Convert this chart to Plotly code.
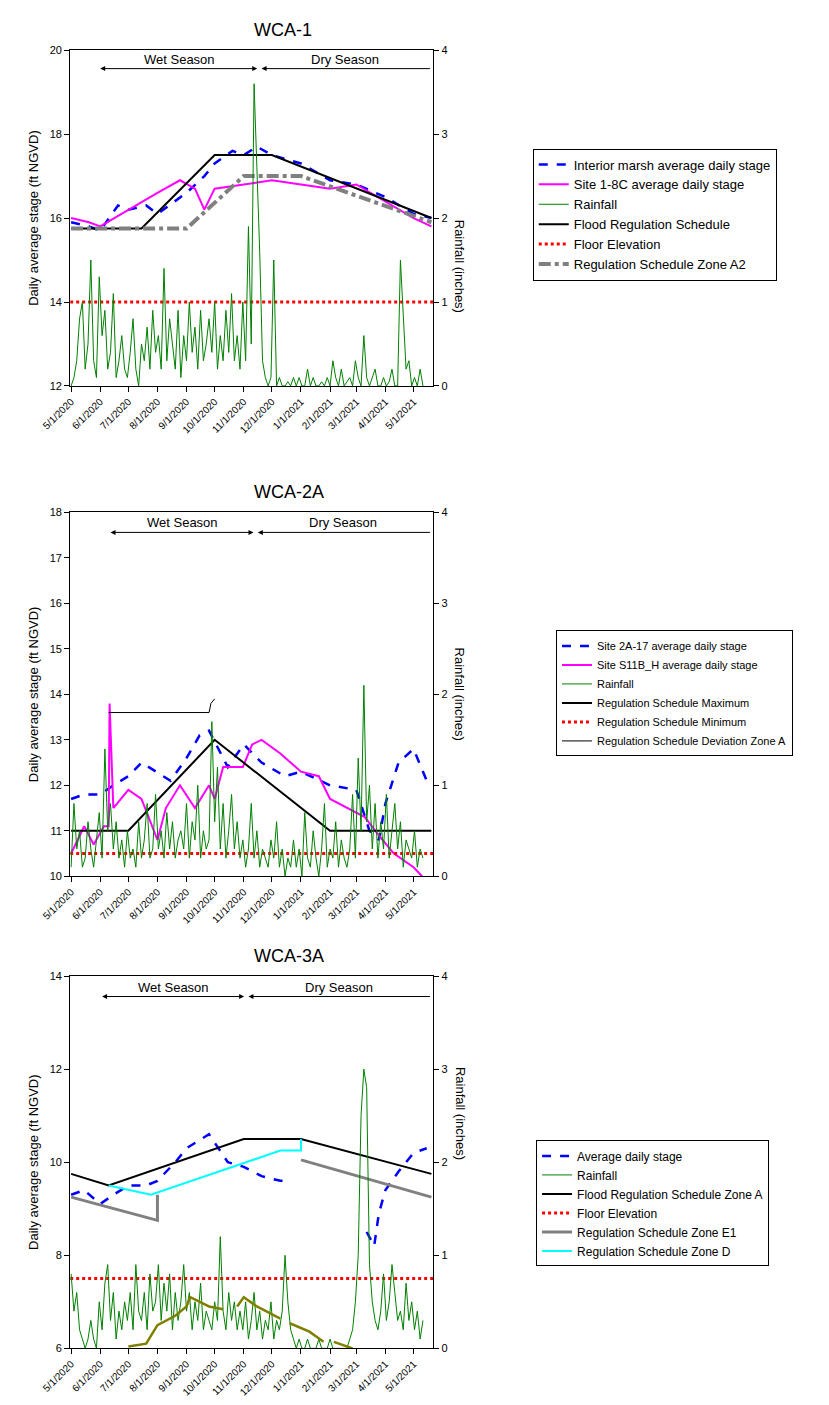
import pandas as pd
import plotly.graph_objects as go

# ---------------- data ----------------
rain_start = '2020-05-01'   # rainfall sampled every 3 days

p1_rain = [0, 0.1, 0.3, 0.8, 1.0, 0.2, 0.5, 1.5, 0.3, 0.1,
           1.3, 0.6, 0.9, 0.2, 0.4, 1.1, 0.1, 0.3, 0.6, 0.2,
           0.1, 0.4, 0.8, 0.2, 0.0, 0.5, 0.3, 0.7, 0.2, 0.9,
           0.4, 0.6, 0.2, 1.4, 0.3, 0.8, 0.5, 0.2, 0.9, 0.1,
           0.6, 0.3, 1.0, 0.4, 0.7, 0.2, 0.9, 0.3, 0.5, 0.8,
           0.4, 1.0, 0.2, 0.6, 0.3, 0.9, 0.4, 1.1, 0.3, 0.6,
           0.2, 1.0, 0.3, 1.9, 0.5, 3.6, 2.6, 1.6, 0.3, 0.1,
           0.0, 0.1, 1.5, 0.0, 0.1, 0.0, 0.0, 0.05, 0.0, 0.1,
           0, 0.1, 0.0, 0.0, 0.2, 0.0, 0.1, 0.0, 0.0, 0.05,
           0, 0.1, 0.0, 0.3, 0.1, 0, 0.2, 0, 0.05, 0.1,
           0, 0.3, 0.1, 0, 0.6, 0.1, 0, 0.1, 0.2, 0,
           0, 0.1, 0, 0.05, 0.2, 0, 0, 1.5, 0.9, 0.2,
           0.3, 0.0, 0.1, 0, 0.2, 0]
p2_rain = [0.1, 0.8, 0.3, 0.5, 0.1, 0.2, 0.6, 0.3, 0.1, 0.4,
           0.7, 0.2, 1.4, 0.5, 0.8, 0.3, 0.6, 0.2, 0.4, 0.1,
           0.5, 0.2, 0.3, 0.1, 0.6, 0.2, 0.4, 0.8, 0.2, 0.3,
           0.9, 0.3, 0.5, 0.2, 0.7, 0.3, 0.6, 0.2, 0.4, 0.5,
           0.3, 0.8, 0.2, 0.6, 0.4, 1.0, 0.2, 0.5, 0.3, 0.4,
           1.7, 0.6, 1.2, 0.3, 0.8, 0.2, 0.5, 0.9, 0.3, 0.6,
           0.2, 0.4, 0.1, 0.3, 0.8, 0.2, 0.5, 0.1, 0.3, 0.2,
           0.1, 0.4, 0.2, 0.6, 0.1, 0.3, 0.0, 0.2, 0.1, 0.4,
           0.1, 0.3, 0.0, 0.7, 0.2, 0.1, 0.5, 0.2, 0.0, 0.3,
           0.8, 0.1, 0.3, 0.2, 0.6, 0.1, 0.4, 0.2, 0.1, 0.3,
           0.9, 0.2, 1.3, 0.5, 2.1, 0.6, 1.0, 0.3, 0.8, 0.2,
           0.6, 0.3, 0.9, 0.2, 0.5, 0.8, 0.3, 0.6, 0.1, 0.4,
           0.3, 0.2, 0.5, 0.1, 0.3, 0.2]
p3_rain = [0.8, 0.4, 0.6, 0.2, 0.1, 0.0, 0.1, 0.3, 0.1, 0.0,
           0.5, 0.2, 0.7, 0.9, 0.3, 0.6, 0.1, 0.4, 0.2, 0.5,
           0.3, 0.6, 0.2, 0.9, 0.4, 0.3, 0.6, 0.2, 0.8, 0.4,
           0.5, 0.9, 0.3, 0.7, 0.4, 0.8, 0.2, 0.6, 0.3, 0.5,
           0.9, 0.4, 0.6, 0.2, 0.5, 0.3, 0.7, 0.2, 0.4, 0.3,
           0.2, 0.5, 0.3, 1.2, 0.4, 0.2, 0.6, 0.3, 0.5, 0.2,
           0.4, 0.2, 0.5, 0.1, 0.3, 0.6, 0.2, 0.4, 0.1, 0.3,
           0.2, 0.5, 0.1, 0.3, 0.2, 0.4, 1.0, 0.5, 0.2, 0.1,
           0.0, 0.1, 0.0, 0.0, 0.1, 0.0, 0.0, 0.0, 0.1, 0.0,
           0.0, 0.0, 0.1, 0.0, 0.0, 0.0, 0.0, 0.0, 0.0, 0.1,
           0.2, 0.5, 1.0, 2.5, 3.0, 2.8, 0.9, 0.5, 0.3, 0.2,
           0.4, 0.8, 0.3, 0.5, 0.9, 0.6, 0.3, 0.4, 0.2, 0.7,
           0.3, 0.5, 0.2, 0.4, 0.1, 0.3]

# WCA-1
p1_marsh_dates = ['2020-05-01', '2020-05-20', '2020-06-01', '2020-06-20', '2020-07-01', '2020-07-20', '2020-08-01',
                  '2020-08-20', '2020-09-01', '2020-09-20', '2020-10-01', '2020-10-20', '2020-11-01', '2020-11-15',
                  '2020-12-01', '2021-01-01', '2021-02-01', '2021-03-01', '2021-04-01', '2021-05-01', '2021-05-20']
p1_marsh = [15.9, 15.8, 15.7, 16.3, 16.2, 16.3, 16.1, 16.4, 16.6, 17.0, 17.3, 17.6, 17.5, 17.7,
            17.5, 17.3, 16.9, 16.8, 16.5, 16.1, 16.0]
p1_site_dates = ['2020-05-01', '2020-05-20', '2020-06-01', '2020-07-01', '2020-08-01', '2020-08-25', '2020-09-10',
                 '2020-09-20', '2020-10-01', '2020-11-01', '2020-12-01', '2021-01-01', '2021-02-01', '2021-03-01',
                 '2021-04-01', '2021-05-01', '2021-05-20']
p1_site = [16.0, 15.9, 15.8, 16.2, 16.6, 16.9, 16.7, 16.2, 16.7, 16.8, 16.9, 16.8, 16.7, 16.8,
           16.4, 16.0, 15.8]
p1_flood_dates = ['2020-05-01', '2020-07-15', '2020-10-01', '2020-12-01', '2021-05-20']
p1_flood = [15.75, 15.75, 17.5, 17.5, 16.0]
p1_a2_dates = ['2020-05-01', '2020-09-01', '2020-11-01', '2021-01-01', '2021-05-20']
p1_a2 = [15.75, 15.75, 17.0, 17.0, 15.9]
p1_floor = 14.0

# WCA-2A
p2_site1_dates = ['2020-05-01', '2020-05-15', '2020-06-01', '2020-06-15', '2020-07-01', '2020-07-15', '2020-08-15',
                  '2020-09-01', '2020-09-15', '2020-09-25', '2020-10-15', '2020-11-01', '2020-11-20', '2020-12-15',
                  '2021-01-01', '2021-02-01', '2021-03-01', '2021-03-15', '2021-03-25', '2021-04-01', '2021-04-15',
                  '2021-05-01', '2021-05-15']
p2_site1 = [11.7, 11.8, 11.8, 12.0, 12.2, 12.5, 12.1, 12.6, 13.1, 13.2, 12.4, 12.9, 12.5, 12.2,
            12.3, 12.0, 11.9, 11.0, 10.8, 11.6, 12.5, 12.8, 12.1]
p2_site2_dates = ['2020-05-01', '2020-05-15', '2020-05-25', '2020-06-05', '2020-06-10', '2020-06-11', '2020-06-15',
                  '2020-07-01', '2020-07-15', '2020-08-01', '2020-08-10', '2020-08-25', '2020-09-10', '2020-09-25',
                  '2020-10-01', '2020-10-10', '2020-10-31', '2020-11-10', '2020-11-20', '2020-12-10', '2021-01-01',
                  '2021-01-20', '2021-02-01', '2021-02-20', '2021-03-10', '2021-03-25', '2021-04-10', '2021-05-01',
                  '2021-05-10']
p2_site2 = [10.5, 11.1, 10.7, 11.1, 11.1, 13.8, 11.5, 11.9, 11.7, 10.8, 11.5, 12.0, 11.5, 12.0,
            11.7, 12.4, 12.4, 12.9, 13.0, 12.7, 12.3, 12.2, 11.7, 11.5, 11.3, 10.9, 10.5, 10.2, 10.0]
p2_max_dates = ['2020-05-01', '2020-07-01', '2020-10-01', '2021-02-01', '2021-05-20']
p2_max = [11.0, 11.0, 13.0, 11.0, 11.0]
p2_dev_dates = ['2020-06-10', '2020-09-25', '2020-09-27', '2020-10-01']
p2_dev = [13.6, 13.6, 13.8, 13.9]
p2_min = 10.5

# WCA-3A
p3_stage_dates = ['2020-05-01', '2020-05-15', '2020-06-01', '2020-06-15', '2020-07-01', '2020-07-20', '2020-08-01',
                  '2020-08-20', '2020-09-01', '2020-09-25', '2020-10-15', '2020-11-01', '2020-11-20', '2020-12-10',
                  '2020-12-20', '2021-01-01', '2021-03-12', '2021-03-20', '2021-03-25', '2021-04-01', '2021-04-15',
                  '2021-05-01', '2021-05-15']
p3_stage = [9.3, 9.4, 9.1, 9.3, 9.5, 9.5, 9.6, 10.0, 10.3, 10.6, 10.0, 9.9, 9.7, 9.6,
            9.6, None, 8.5, 8.2, 8.9, 9.4, 9.8, 10.2, 10.3]
p3_zoneA_dates = ['2020-05-01', '2020-06-10', '2020-11-01', '2021-01-01', '2021-05-20']
p3_zoneA = [9.75, 9.5, 10.5, 10.5, 9.75]
p3_e1_dates = ['2020-05-01', '2020-07-31', '2020-08-01', '2020-08-01', '2021-01-01', '2021-01-01', '2021-05-20']
p3_e1 = [9.25, 8.75, 8.75, 9.3, None, 10.05, 9.25]
p3_d_dates = ['2020-06-10', '2020-07-25', '2020-12-10', '2021-01-01', '2021-01-01']
p3_d = [9.5, 9.3, 10.25, 10.25, 10.5]
p3_floor = 7.5
p3_other_dates = ['2020-07-01', '2020-07-20', '2020-08-01', '2020-08-20', '2020-09-01', '2020-09-05', '2020-09-25',
                  '2020-10-10', '2020-10-18', '2020-10-25', '2020-11-01', '2020-11-15', '2020-12-10', '2020-12-15',
                  '2020-12-20', '2021-01-10', '2021-01-25', '2021-01-30', '2021-02-05', '2021-02-25']
p3_other = [0.02, 0.05, 0.25, 0.35, 0.45, 0.55, 0.45, 0.42, None, 0.45, 0.55, 0.45, 0.32, None,
            0.27, 0.18, 0.07, None, 0.07, 0.0]

x_ticks = pd.date_range('2020-05-01', '2021-05-01', freq='MS')
x_labels = [f'{d.month}/1/{d.year}' for d in x_ticks]
x_range = ['2020-04-30', '2021-05-22']


def rain_dates(vals):
    return pd.date_range(rain_start, periods=len(vals), freq='3D')


# ---------------- figure ----------------
fig = go.Figure()
FONT = 'Arial, Liberation Sans, sans-serif'

panels = [
    dict(title='WCA-1', dom=[0.731, 0.970], yr=[12, 20], dt=2, rain=p1_rain, leg='legend',
         wet=('2020-06-01', '2020-11-17'), dry_end='2021-05-20'),
    dict(title='WCA-2A', dom=[0.382, 0.641], yr=[10, 18], dt=1, rain=p2_rain, leg='legend2',
         wet=('2020-06-12', '2020-11-13'), dry_end='2021-05-20'),
    dict(title='WCA-3A', dom=[0.046, 0.311], yr=[6, 14], dt=2, rain=p3_rain, leg='legend3',
         wet=('2020-06-03', '2020-11-03'), dry_end='2021-05-20'),
]


def add(i, x, y, name, color, width, dash='solid', right=False, show=True):
    n = i + 1
    fig.add_trace(go.Scatter(x=x, y=y, name=name, mode='lines',
                             line=dict(color=color, width=width, dash=dash),
                             xaxis=f'x{n}' if n > 1 else 'x',
                             yaxis=f'y{2 * n}' if right else (f'y{2 * n - 1}' if n > 1 else 'y'),
                             legend=panels[i]['leg'], showlegend=show, connectgaps=False))


# WCA-1 traces
add(0, p1_marsh_dates, p1_marsh, 'Interior marsh average daily stage', '#0000ff', 2.5, 'dash')
add(0, p1_site_dates, p1_site, 'Site 1-8C average daily stage', '#ff00ff', 2)
add(0, rain_dates(p1_rain), p1_rain, 'Rainfall', '#008000', 1, right=True)
add(0, p1_flood_dates, p1_flood, 'Flood Regulation Schedule', '#000000', 2)
add(0, x_range, [p1_floor, p1_floor], 'Floor Elevation', '#ff0000', 3, 'dot')
add(0, p1_a2_dates, p1_a2, 'Regulation Schedule Zone A2', '#808080', 4, 'dashdot')

# WCA-2A traces
add(1, p2_site1_dates, p2_site1, 'Site 2A-17 average daily stage', '#0000ff', 2.5, 'dash')
add(1, p2_site2_dates, p2_site2, 'Site S11B_H average daily stage', '#ff00ff', 2)
add(1, rain_dates(p2_rain), p2_rain, 'Rainfall', '#008000', 1, right=True)
add(1, p2_max_dates, p2_max, 'Regulation Schedule Maximum', '#000000', 2)
add(1, x_range, [p2_min, p2_min], 'Regulation Schedule Minimum', '#ff0000', 3, 'dot')
add(1, p2_dev_dates, p2_dev, 'Regulation Schedule Deviation Zone A', '#000000', 1)

# WCA-3A traces
add(2, p3_stage_dates, p3_stage, 'Average daily stage', '#0000ff', 2.5, 'dash')
add(2, rain_dates(p3_rain), p3_rain, 'Rainfall', '#008000', 1, right=True)
add(2, p3_zoneA_dates, p3_zoneA, 'Flood Regulation Schedule Zone A', '#000000', 2)
add(2, x_range, [p3_floor, p3_floor], 'Floor Elevation', '#ff0000', 3, 'dot')
add(2, p3_e1_dates, p3_e1, 'Regulation Schedule Zone E1', '#808080', 3)
add(2, p3_d_dates, p3_d, 'Regulation Schedule Zone D', '#00ffff', 2)
add(2, p3_other_dates, p3_other, '', '#808000', 2.5, right=True, show=False)

axis_common = dict(showline=True, linecolor='black', linewidth=1, ticks='outside', ticklen=5,
                   tickcolor='black', showgrid=False, zeroline=False, automargin=False,
                   tickfont=dict(size=11, family=FONT))

for i, p in enumerate(panels):
    n = i + 1
    xa = 'xaxis' if n == 1 else f'xaxis{n}'
    yl = 'yaxis' if n == 1 else f'yaxis{2 * n - 1}'
    yr = f'yaxis{2 * n}'
    yl_ref = 'y' if n == 1 else f'y{2 * n - 1}'
    x_ref = 'x' if n == 1 else f'x{n}'
    fig.update_layout({
        xa: dict(axis_common, domain=[0.075, 0.513], anchor=yl_ref, range=x_range, type='date',
                 tickvals=list(x_ticks), ticktext=x_labels, tickangle=-45, mirror=True,
                 tickfont=dict(size=10, family=FONT)),
        yl: dict(axis_common, domain=p['dom'], anchor=x_ref, range=p['yr'], dtick=p['dt'],
                 title=dict(text='Daily average stage (ft NGVD)', font=dict(size=13, family=FONT), standoff=8)),
        yr: dict(axis_common, overlaying=yl_ref, side='right', anchor=x_ref, range=[0, 4], dtick=1),
    })
    top = p['yr'][1]
    span = p['yr'][1] - p['yr'][0]
    ya = top - 0.055 * span
    fig.add_annotation(x=0.294, xref='paper', y=p['dom'][1] + 0.006, yref='paper', text=p['title'],
                       showarrow=False, font=dict(size=18, family=FONT), yanchor='bottom')
    fig.add_annotation(x=0.545, xref='paper', y=(p['dom'][0] + p['dom'][1]) / 2, yref='paper',
                       text='Rainfall (inches)', textangle=90, showarrow=False,
                       font=dict(size=13, family=FONT))
    wet0, wet1 = p['wet']
    mid = pd.Timestamp(wet0) + (pd.Timestamp(wet1) - pd.Timestamp(wet0)) / 2
    dmid = pd.Timestamp(wet1) + (pd.Timestamp(p['dry_end']) - pd.Timestamp(wet1)) / 2
    fig.add_annotation(x=wet0, y=ya, ax=wet1, ay=ya, xref=x_ref, yref=yl_ref, axref=x_ref, ayref=yl_ref,
                       text='', showarrow=True, arrowhead=2, arrowside='end+start', arrowwidth=1,
                       arrowcolor='black')
    fig.add_annotation(x=pd.Timestamp(wet1) + pd.Timedelta(days=3), y=ya, ax=p['dry_end'], ay=ya,
                       xref=x_ref, yref=yl_ref, axref=x_ref, ayref=yl_ref,
                       text='', showarrow=True, arrowhead=2, arrowwidth=1, arrowcolor='black')
    fig.add_annotation(x=mid, y=ya, xref=x_ref, yref=yl_ref, text='Wet Season', showarrow=False,
                       yanchor='bottom', font=dict(size=13, family=FONT))
    fig.add_annotation(x=dmid, y=ya, xref=x_ref, yref=yl_ref, text='Dry Season', showarrow=False,
                       yanchor='bottom', font=dict(size=13, family=FONT))

leg_common = dict(bordercolor='black', borderwidth=1, bgcolor='white', xanchor='left', yanchor='top',
                  tracegroupgap=0)
fig.update_layout(
    width=829, height=1405, margin=dict(l=0, r=0, t=0, b=0),
    paper_bgcolor='white', plot_bgcolor='white', font=dict(family=FONT, color='black'),
    legend=dict(leg_common, x=0.633, y=0.90, font=dict(size=13, family=FONT)),
    legend2=dict(leg_common, x=0.661, y=0.557, font=dict(size=11, family=FONT)),
    legend3=dict(leg_common, x=0.637, y=0.194, font=dict(size=12, family=FONT)),
)

fig.write_html('out.html')
